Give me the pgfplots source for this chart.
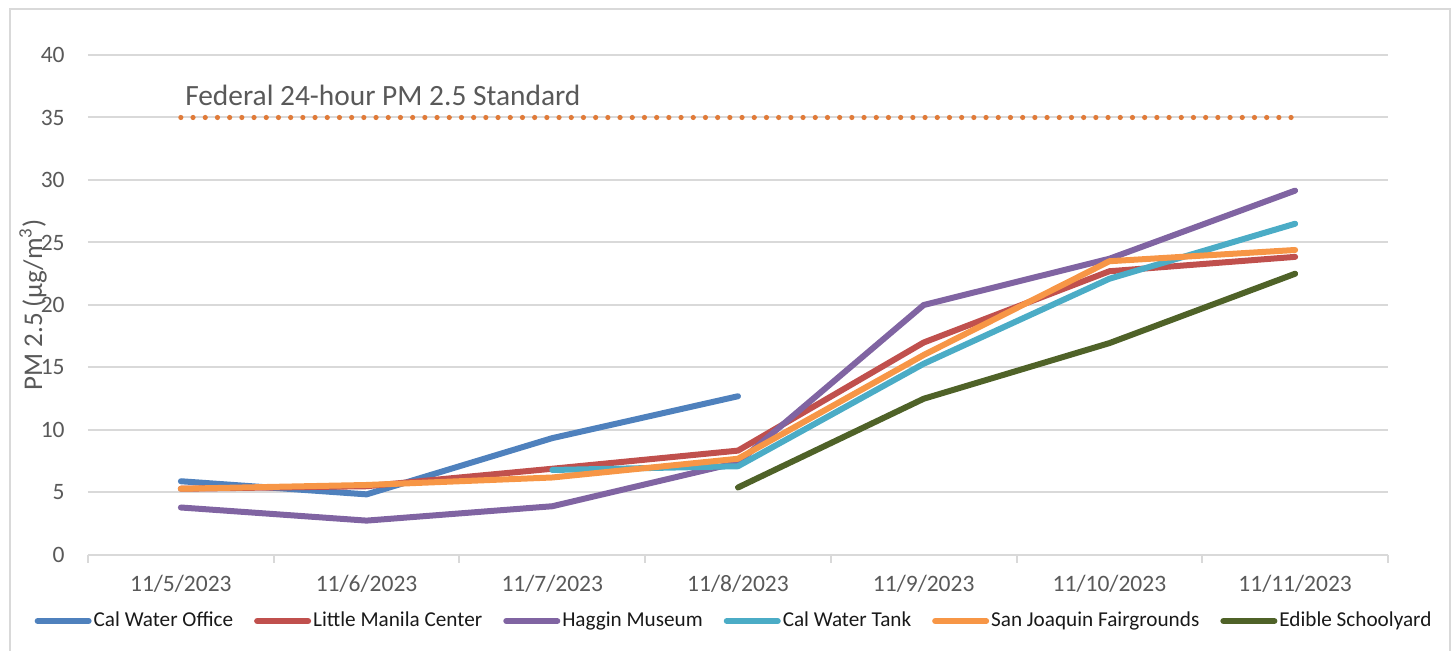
\documentclass[border=0pt]{standalone}
\usepackage{pgfplots}
\pgfplotsset{compat=1.18}
\usepackage{fontspec}
\setmainfont{Carlito}
\definecolor{cwo}{HTML}{4F81BD}
\definecolor{lmc}{HTML}{C0504D}
\definecolor{hgm}{HTML}{8064A2}
\definecolor{cwt}{HTML}{4BACC6}
\definecolor{sjf}{HTML}{F79646}
\definecolor{eds}{HTML}{4F6228}
\definecolor{fedc}{HTML}{E07B39}
\definecolor{gridc}{HTML}{D9D9D9}
\definecolor{tickc}{HTML}{595959}
\begin{document}
\begin{tikzpicture}
\useasboundingbox (-44pt,-48pt) rectangle (683.5pt,277.5pt);
\draw[color=gridc, line width=1pt] (-39pt,-50pt) -- (-39pt,273pt) -- (681pt,273pt) -- (681pt,-50pt);
\begin{axis}[
  scale only axis,
  width=650pt, height=250pt,
  xmin=-0.5, xmax=6.5, ymin=0, ymax=40,
  ytick={0,5,...,40},
  xtick={0,...,6},
  xticklabels={11/5/2023,11/6/2023,11/7/2023,11/8/2023,11/9/2023,11/10/2023,11/11/2023},
  minor xtick={-0.5,0.5,...,6.5},
  major tick length=0pt,
  minor tick length=4pt,
  tick align=outside,
  axis lines*=left,
  y axis line style={draw=none},
  x axis line style={draw=gridc, line width=1pt},
  minor tick style={draw=gridc, line width=1pt},
  ymajorgrids,
  major grid style={draw=gridc, line width=1pt},
  /pgf/number format/assume math mode=true,
  ticklabel style={font=\fontsize{11.75}{14}\selectfont, text=tickc},
  yticklabel style={anchor=east, inner sep=0pt, xshift=-11.5pt},
  xticklabel style={anchor=center, inner sep=0pt, yshift=-14.5pt},
  ylabel={PM 2.5 (μg/m\textsuperscript{3})},
  ylabel style={at={(axis description cs:-0.0423,0.5)}, anchor=center, text=tickc, font=\fontsize{13.5}{16}\selectfont},
  legend columns=6,
  legend style={at={(0.497,-0.132)}, anchor=center, draw=none, fill=none,
    font=\fontsize{10.6}{12}\selectfont, text=black!90,
    /tikz/every even column/.append style={column sep=9.5pt},
    nodes={inner sep=1pt}},
  legend image code/.code={\draw[#1] (0pt,0pt) -- (25.5pt,0pt);},
  every axis plot/.append style={line width=3pt, line cap=round, line join=round},
]
\addplot[fedc, line width=2.6pt, line cap=round, dash pattern=on 0pt off 6.1pt, forget plot] coordinates {(0,35) (6,35)};
\addplot[cwo] coordinates {(0,5.9) (1,4.85) (2,9.35) (3,12.7)};
\addlegendentry{Cal Water Office}
\addplot[lmc] coordinates {(0,5.3) (1,5.5) (2,6.9) (3,8.35) (4,17.0) (5,22.7) (6,23.85)};
\addlegendentry{Little Manila Center}
\addplot[hgm] coordinates {(0,3.8) (1,2.75) (2,3.9) (3,7.4) (4,20.0) (5,23.7) (6,29.15)};
\addlegendentry{Haggin Museum}
\addplot[cwt] coordinates {(2,6.8) (3,7.1) (4,15.3) (5,22.1) (6,26.5)};
\addlegendentry{Cal Water Tank}
\addplot[sjf] coordinates {(0,5.3) (1,5.6) (2,6.2) (3,7.7) (4,16.0) (5,23.5) (6,24.4)};
\addlegendentry{San Joaquin Fairgrounds}
\addplot[eds] coordinates {(3,5.4) (4,12.5) (5,16.95) (6,22.5)};
\addlegendentry{Edible Schoolyard}
\node[anchor=base west, inner sep=0pt, text=tickc, font=\fontsize{14.7}{17}\selectfont, xshift=2pt, yshift=6pt] at (axis cs:0,35) {Federal 24-hour PM 2.5 Standard};
\end{axis}
\end{tikzpicture}
\end{document}
